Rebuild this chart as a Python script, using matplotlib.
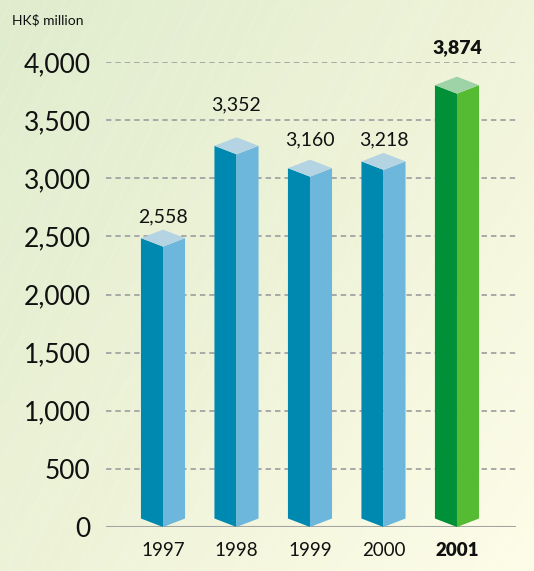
import matplotlib.pyplot as plt
import numpy as np
from matplotlib.patches import Polygon
from matplotlib.colors import LinearSegmentedColormap

years = ['1997', '1998', '1999', '2000', '2001']
values = [2558, 3352, 3160, 3218, 3874]
value_labels = ['2,558', '3,352', '3,160', '3,218', '3,874']
y_ticks = [0, 500, 1000, 1500, 2000, 2500, 3000, 3500, 4000]
y_tick_labels = ['0', '500', '1,000', '1,500', '2,000', '2,500', '3,000', '3,500', '4,000']
highlight = [False, False, False, False, True]

W, H = 534, 571
fig = plt.figure(figsize=(W / 100, H / 100), dpi=100)
plt.rcParams['font.family'] = ['Lato', 'DejaVu Sans']

# background: diagonal gradient with faint white hatch lines
bg = fig.add_axes([0, 0, 1, 1])
bg.set_xlim(0, W)
bg.set_ylim(H, 0)
bg.axis('off')
gx, gy = np.meshgrid(np.linspace(0, 1, 200), np.linspace(0, 1, 200))
cmap = LinearSegmentedColormap.from_list('bg', ['#e0ecce', '#eef3d8', '#fefde8'])
bg.imshow(gx * 0.55 + gy * 0.45, cmap=cmap, extent=[0, W, H, 0], aspect='auto')
for x0 in np.arange(-300, W + 300, 18):
    bg.plot([x0, x0 + 0.45 * H], [H, 0], color='white', lw=0.6, alpha=0.2)

ax = fig.add_axes([106 / W, (H - 527) / H, 410 / W, 465 / H])
ax.set_facecolor('none')
ax.set_xlim(-0.7755, 4.803)
ax.set_ylim(0, 4000)
for s in ax.spines.values():
    s.set_visible(False)

for t in y_ticks[1:]:
    ax.axhline(t, color='#a3a3a3', lw=1.3, ls=(0, (3, 2.2)), zorder=1)
ax.axhline(0, color='#a3a3a3', lw=1.5, zorder=1)

hw = 0.3    # half width of bar (x units)
dh = 73     # half height of the top diamond (data units)
blue = ('#0089b0', '#6db7dc', '#b4d3e3')
green = ('#009038', '#55bb33', '#9dd3a6')
label_off = [110, 280, 170, 110, 250]

for i, v in enumerate(values):
    left_c, right_c, top_c = green if highlight[i] else blue
    left = [(i - hw, dh), (i, 0), (i, v - 2 * dh), (i - hw, v - dh)]
    right = [(i + hw, dh), (i, 0), (i, v - 2 * dh), (i + hw, v - dh)]
    top = [(i - hw, v - dh), (i, v - 2 * dh), (i + hw, v - dh), (i, v)]
    ax.add_patch(Polygon(left, closed=True, fc=left_c, ec='none', zorder=3, clip_on=False))
    ax.add_patch(Polygon(right, closed=True, fc=right_c, ec='none', zorder=3, clip_on=False))
    ax.add_patch(Polygon(top, closed=True, fc=top_c, ec='none', zorder=4, clip_on=False))
    ax.text(i, v + label_off[i], value_labels[i], ha='center', va='center',
            fontsize=14, fontweight='heavy' if highlight[i] else 'normal',
            color='#111111', clip_on=False)

ax.set_yticks(y_ticks)
ax.set_yticklabels(y_tick_labels, fontsize=19, color='#111111')
ax.set_xticks(range(len(years)))
ax.set_xticklabels(years, fontsize=13.5, color='#111111')
for lbl, h in zip(ax.get_xticklabels(), highlight):
    if h:
        lbl.set_fontweight('heavy')
ax.tick_params(axis='y', length=0, pad=11)
ax.tick_params(axis='x', length=0, pad=11)

fig.text(12 / W, 1 - 20 / H, 'HK$ million', fontsize=10, ha='left', va='center', color='#111111')

fig.savefig('out.png', dpi=100)
